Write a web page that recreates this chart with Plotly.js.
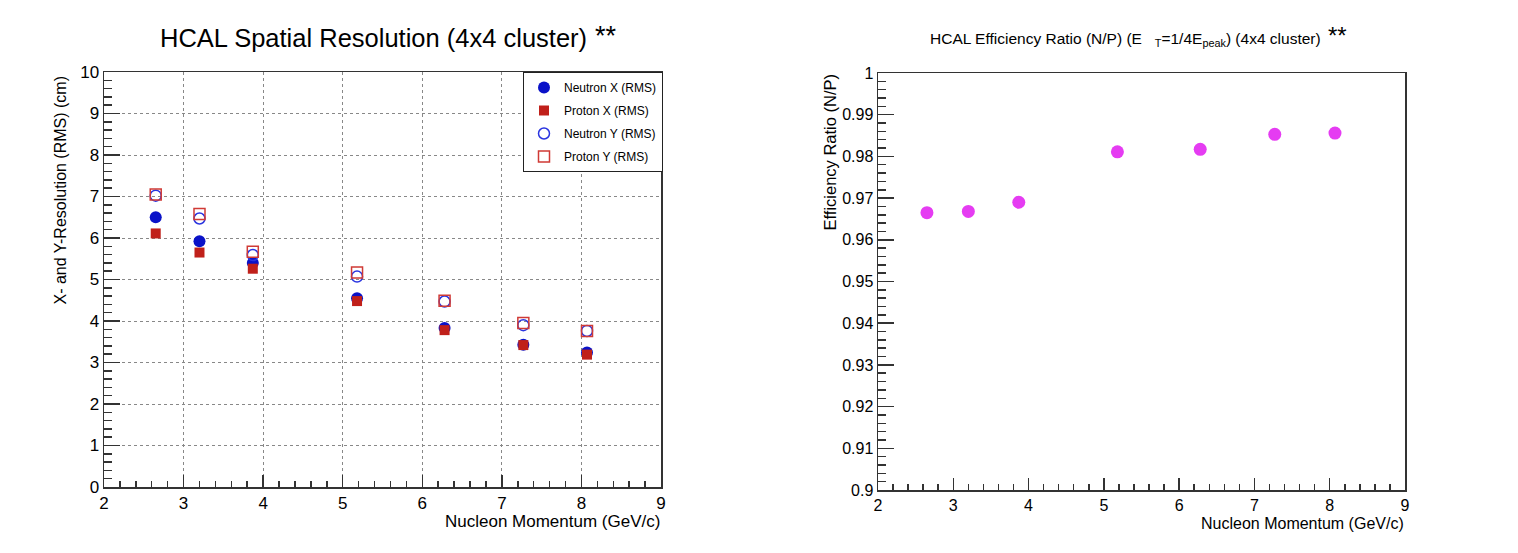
<!DOCTYPE html>
<html>
<head>
<meta charset="utf-8">
<script src="https://cdn.plot.ly/plotly-3.0.1.min.js"></script>
<style>html,body{margin:0;padding:0;background:#fff;}#chart{width:1518px;height:553px;}</style>
</head>
<body>
<div id="chart"></div>
<script>
// ---- data ----
const momentum = [2.65, 3.2, 3.87, 5.18, 6.28, 7.27, 8.07];
const neutronX = [6.50, 5.92, 5.40, 4.55, 3.83, 3.43, 3.24];
const protonX  = [6.11, 5.65, 5.26, 4.48, 3.78, 3.42, 3.19];
const neutronY = [7.02, 6.47, 5.59, 5.07, 4.47, 3.90, 3.76];
const protonY  = [7.05, 6.58, 5.67, 5.17, 4.49, 3.95, 3.76];
const effRatio = [0.9665, 0.9668, 0.9690, 0.9811, 0.9817, 0.9853, 0.9856];
const leftYTicks = [0,1,2,3,4,5,6,7,8,9,10];
const rightYTickVals = [0.9,0.91,0.92,0.93,0.94,0.95,0.96,0.97,0.98,0.99,1.0];
const rightYTickText = ["0.9","0.91","0.92","0.93","0.94","0.95","0.96","0.97","0.98","0.99","1"];
const xTicks = [2,3,4,5,6,7,8,9];

const FONT = "Liberation Sans, Arial, Helvetica, sans-serif";
const W = 1518, H = 553;
const px = v => v / W, py = v => 1 - v / H;

const traces = [
  {x: momentum, y: neutronX, name: "Neutron X (RMS)", type: "scatter", mode: "markers",
   legendgroup: "a", marker: {symbol: "circle", size: 12, color: "#0a12c8"}, xaxis: "x", yaxis: "y"},
  {x: momentum, y: protonX, name: "Proton X (RMS)", type: "scatter", mode: "markers",
   legendgroup: "b", marker: {symbol: "square", size: 10, color: "#c0201a"}, xaxis: "x", yaxis: "y"},
  {x: momentum, y: neutronY, name: "Neutron Y (RMS)", type: "scatter", mode: "markers",
   legendgroup: "c", marker: {symbol: "circle-open", size: 11, color: "#2a35e0", line: {width: 1.5}}, xaxis: "x", yaxis: "y"},
  {x: momentum, y: protonY, name: "Proton Y (RMS)", type: "scatter", mode: "markers",
   legendgroup: "d", marker: {symbol: "square-open", size: 11, color: "#d03a35", line: {width: 1.5}}, xaxis: "x", yaxis: "y"},
  {x: momentum, y: effRatio, name: "Efficiency Ratio", type: "scatter", mode: "markers", showlegend: false,
   marker: {symbol: "circle", size: 13, color: "#e53cf2"}, xaxis: "x2", yaxis: "y2"}
];

const axisCommon = {
  showline: true, linecolor: "#333", linewidth: 1.5, mirror: true,
  ticks: "inside", tickcolor: "#333", tickwidth: 1.5, zeroline: false,
  tickfont: {family: FONT, size: 17, color: "#000"}
};

const layout = {
  width: W, height: H,
  margin: {l: 0, r: 0, t: 0, b: 0},
  paper_bgcolor: "#fff", plot_bgcolor: "#fff",
  showlegend: true,
  legend: {
    x: px(523), y: py(72), xanchor: "left", yanchor: "top",
    bgcolor: "#fff", bordercolor: "#222", borderwidth: 1,
    font: {family: FONT, size: 12, color: "#000"},
    tracegroupgap: 4, itemwidth: 30
  },
  xaxis: Object.assign({}, axisCommon, {
    domain: [px(104), px(661)], range: [2, 9], tickvals: xTicks, ticklen: 12,
    showgrid: true, gridcolor: "#888", griddash: "dot", gridwidth: 1,
    minor: {dtick: 0.2, ticklen: 6, ticks: "inside", tickcolor: "#333", tickwidth: 1.5, showgrid: false},
    anchor: "y"
  }),
  yaxis: Object.assign({}, axisCommon, {
    domain: [py(487), py(72)], range: [0, 10], tickvals: leftYTicks, ticklen: 16,
    showgrid: true, gridcolor: "#888", griddash: "dot", gridwidth: 1,
    minor: {dtick: 0.2, ticklen: 8, ticks: "inside", tickcolor: "#333", tickwidth: 1.5, showgrid: false},
    anchor: "x"
  }),
  xaxis2: Object.assign({}, axisCommon, {
    domain: [px(878), px(1405)], range: [2, 9], tickvals: xTicks, ticklen: 12,
    tickfont: {family: FONT, size: 16, color: "#000"},
    showgrid: false,
    minor: {dtick: 0.2, ticklen: 6, ticks: "inside", tickcolor: "#333", tickwidth: 1.5, showgrid: false},
    anchor: "y2"
  }),
  yaxis2: Object.assign({}, axisCommon, {
    domain: [py(490), py(73)], range: [0.9, 1.0], tickvals: rightYTickVals, ticktext: rightYTickText, ticklen: 16,
    tickfont: {family: FONT, size: 16, color: "#000"},
    showgrid: false,
    minor: {dtick: 0.002, ticklen: 8, ticks: "inside", tickcolor: "#333", tickwidth: 1.5, showgrid: false},
    anchor: "x2"
  }),
  annotations: [
    {text: "HCAL Spatial Resolution (4x4 cluster)", xref: "paper", yref: "paper",
     x: px(589), y: py(38), xanchor: "right", yanchor: "middle", showarrow: false,
     font: {family: FONT, size: 25.5, color: "#000"}},
    {text: "**", xref: "paper", yref: "paper", x: px(593), y: py(36), xanchor: "left", yanchor: "middle",
     showarrow: false, font: {family: FONT, size: 27, color: "#000"}},
    {text: "HCAL Efficiency Ratio (N/P) (E&nbsp;&nbsp;&nbsp;<sub>T</sub>=1/4E<sub>peak</sub>) (4x4 cluster)", xref: "paper", yref: "paper",
     x: px(1323), y: py(40), xanchor: "right", yanchor: "middle", showarrow: false,
     font: {family: FONT, size: 15.5, color: "#000"}},
    {text: "**", xref: "paper", yref: "paper", x: px(1326), y: py(35), xanchor: "left", yanchor: "middle",
     showarrow: false, font: {family: FONT, size: 24, color: "#000"}},
    {text: "X- and Y-Resolution (RMS) (cm)", xref: "paper", yref: "paper", textangle: -90,
     x: px(60), y: py(74), xanchor: "center", yanchor: "top", showarrow: false,
     font: {family: FONT, size: 16, color: "#000"}},
    {text: "Nucleon Momentum (GeV/c)", xref: "paper", yref: "paper",
     x: px(662), y: py(521), xanchor: "right", yanchor: "middle", showarrow: false,
     font: {family: FONT, size: 17, color: "#000"}},
    {text: "Efficiency Ratio (N/P)", xref: "paper", yref: "paper", textangle: -90,
     x: px(829), y: py(72), xanchor: "center", yanchor: "top", showarrow: false,
     font: {family: FONT, size: 16.5, color: "#000"}},
    {text: "Nucleon Momentum (GeV/c)", xref: "paper", yref: "paper",
     x: px(1406), y: py(523), xanchor: "right", yanchor: "middle", showarrow: false,
     font: {family: FONT, size: 16, color: "#000"}}
  ]
};

Plotly.newPlot("chart", traces, layout, {displayModeBar: false, staticPlot: true});
</script>
</body>
</html>
